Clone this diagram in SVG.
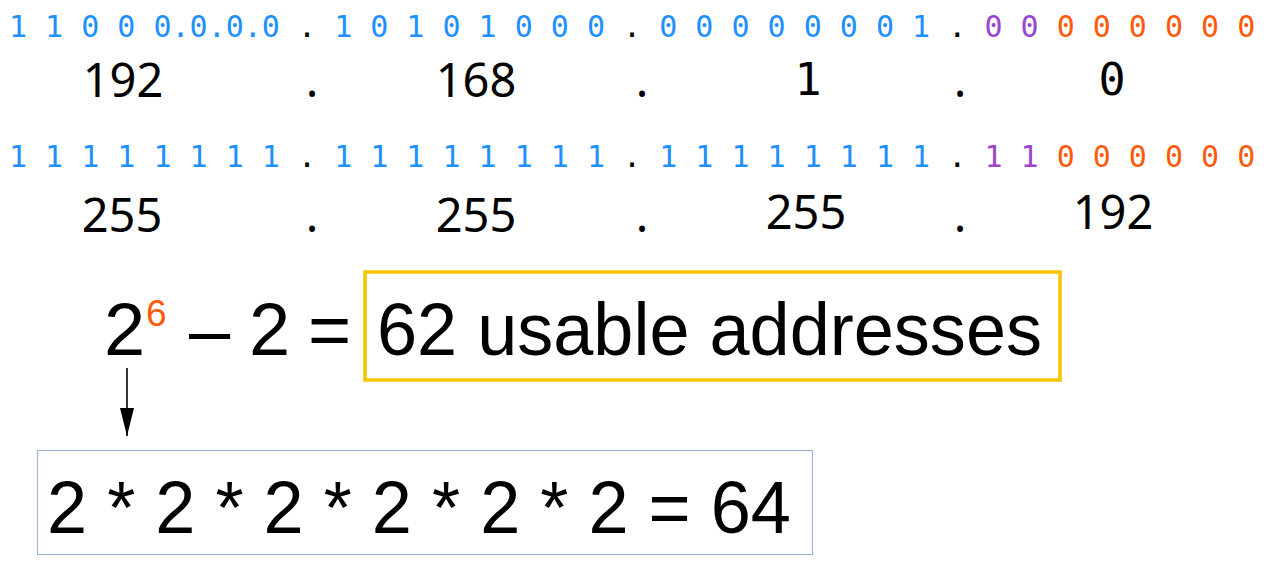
<svg xmlns="http://www.w3.org/2000/svg" width="1274" height="580" viewBox="0 0 1274 580">
<defs>
<style>
.bin{font-family:"DejaVu Sans Mono","Liberation Mono",monospace;font-size:30px;fill:#000;white-space:pre}
.b{fill:#1e90ff}.p{fill:#9c46d0}.o{fill:#ff5a0a}
.dec{font-family:"Noto Sans","Open Sans",sans-serif;font-size:47px;fill:#000;text-anchor:middle}
.mono{font-family:"DejaVu Sans Mono","Liberation Mono",monospace;font-size:45px;fill:#000;text-anchor:middle}
.big{font-family:"Liberation Sans",Arial,sans-serif;font-size:74px;fill:#000}
</style>
<marker id="ah" markerWidth="28" markerHeight="14" refX="28" refY="7" orient="auto" markerUnits="userSpaceOnUse" viewBox="0 0 28 14">
<path d="M0,0 L28,7 L0,14 Z" fill="#000"/>
</marker>
</defs>
<rect width="1274" height="580" fill="#fff"/>
<g id="ip-binary">
<text class="bin" x="9" y="37" xml:space="preserve"><tspan class="b">1 1 0 0 0.0.0.0</tspan> . <tspan class="b">1 0 1 0 1 0 0 0</tspan> . <tspan class="b">0 0 0 0 0 0 0 1</tspan> . <tspan class="p">0 0</tspan> <tspan class="o">0 0 0 0 0 0</tspan></text>
</g>
<g id="ip-decimal">
<text class="dec" x="123" y="97">192</text>
<text class="dec" x="312" y="97">.</text>
<text class="dec" x="476" y="97">168</text>
<text class="dec" x="642" y="97">.</text>
<text class="mono" x="808" y="95">1</text>
<text class="dec" x="960" y="97">.</text>
<text class="mono" x="1112" y="95">0</text>
</g>
<g id="mask-binary">
<text class="bin" x="9" y="167" xml:space="preserve"><tspan class="b">1 1 1 1 1 1 1 1</tspan> . <tspan class="b">1 1 1 1 1 1 1 1</tspan> . <tspan class="b">1 1 1 1 1 1 1 1</tspan> . <tspan class="p">1 1</tspan> <tspan class="o">0 0 0 0 0 0</tspan></text>
</g>
<g id="mask-decimal">
<text class="dec" x="122" y="232">255</text>
<text class="dec" x="312" y="232">.</text>
<text class="dec" x="476" y="232">255</text>
<text class="dec" x="642" y="232">.</text>
<text class="dec" x="806" y="229">255</text>
<text class="dec" x="960" y="232">.</text>
<text class="dec" x="1113" y="229">192</text>
</g>
<g id="formula">
<text class="big" x="104" y="355">2</text>
<text x="146" y="326" font-family="Liberation Sans, Arial, sans-serif" font-size="37" fill="#ff5a0a">6</text>
<text class="big" x="189" y="355">–</text>
<text class="big" x="249" y="355">2</text>
<text class="big" x="308" y="355">=</text>
</g>
<g id="usable-box">
<rect x="365" y="272" width="695" height="108" fill="none" stroke="#f5c500" stroke-width="3.5"/>
<text class="big" x="377" y="355" textLength="665" lengthAdjust="spacingAndGlyphs">62 usable addresses</text>
</g>
<g id="product-box">
<rect x="37.5" y="450.5" width="775" height="104" fill="none" stroke="#9fb4d8" stroke-width="1.2"/>
<text class="big" x="47" y="533" font-size="70" textLength="744" lengthAdjust="spacingAndGlyphs">2 * 2 * 2 * 2 * 2 * 2 = 64</text>
</g>
<g id="connectors">
<line x1="127" y1="368" x2="127" y2="436" stroke="#000" stroke-width="1.6" marker-end="url(#ah)"/>
</g>
</svg>
